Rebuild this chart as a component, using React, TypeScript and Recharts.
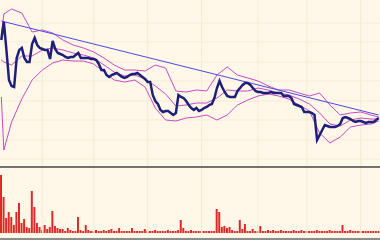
import React from "react";
import {
  Bar,
  BarChart,
  ComposedChart,
  Line,
  ReferenceLine,
  XAxis,
  YAxis,
} from "recharts";

// closing price, one value per trading day
const closes = [
  127, 145, 117, 87, 81, 80, 109, 117, 119, 109, 105, 105, 123, 129, 122, 119,
  118, 117, 117, 108, 126, 118, 114, 113, 112, 110, 109, 110, 110, 112, 114, 109,
  109, 109, 109, 108, 108, 107, 103, 97, 97, 92, 90, 92, 93, 94, 92, 90,
  89, 90, 92, 93, 93, 94, 92, 90, 88, 85, 85, 72, 66, 63, 57, 55,
  56, 56, 54, 52, 54, 72, 70, 69, 66, 62, 59, 57, 59, 56, 57, 59,
  60, 62, 63, 69, 79, 86, 80, 75, 71, 70, 70, 70, 76, 79, 82, 84,
  84, 82, 79, 76, 75, 75, 74, 74, 74, 75, 74, 74, 74, 74, 71, 71,
  71, 69, 63, 62, 61, 60, 55, 55, 55, 54, 52, 27, 32, 37, 42, 41,
  40, 40, 40, 41, 43, 49, 50, 49, 48, 46, 45, 46, 46, 45, 44, 45,
  45, 45, 47, 49,
];

// daily volume
const volumes = [
  58, 36, 15, 21, 16, 8, 21, 30, 10, 14, 6, 5, 42, 26, 10, 6,
  3, 8, 4, 6, 22, 7, 5, 4, 4, 2, 5, 3, 2, 2, 16, 3,
  2, 8, 3, 2, 2, 3, 2, 2, 3, 2, 3, 4, 2, 2, 5, 2,
  2, 2, 2, 5, 2, 2, 2, 2, 4, 2, 2, 2, 3, 2, 2, 2,
  2, 3, 2, 2, 2, 3, 13, 5, 2, 2, 3, 2, 2, 2, 2, 2,
  2, 2, 2, 2, 24, 21, 6, 7, 5, 6, 3, 2, 2, 13, 4, 9,
  2, 2, 4, 2, 2, 7, 2, 2, 3, 2, 3, 2, 2, 3, 2, 2,
  2, 2, 3, 2, 2, 3, 2, 2, 2, 2, 2, 3, 2, 2, 2, 2,
  3, 2, 2, 2, 2, 8, 2, 2, 3, 2, 2, 2, 2, 2, 2, 2,
  2, 2, 2, 2,
];

// bollinger bands, sampled on these days
const bandDays = [
  0, 1, 4, 8, 12, 16, 20, 24, 28, 32, 36, 40, 44, 48, 52, 56, 60, 64, 68, 72,
  76, 80, 84, 88, 92, 96, 100, 104, 108, 112, 116, 120, 124, 128, 132, 136,
  140, 144, 147,
];
const upperBand = [
  132, 153, 158, 154, 135, 137, 134, 127, 122, 119, 115, 109, 102, 97, 97, 96,
  102, 99, 76, 75, 77, 76, 92, 100, 92, 89, 86, 81, 77, 77, 74, 71, 74, 62, 52,
  54, 55, 52, 50,
];
const middleBand = [
  107, 105, 102, 111, 111, 117, 119, 117, 114, 112, 109, 102, 95, 91, 92, 88, 81,
  73, 61, 62, 64, 64, 69, 77, 76, 76, 79, 77, 74, 72, 68, 63, 54, 43, 41, 47, 49,
  48, 48,
];
const lowerBand = [
  70, 17, 45, 68, 87, 97, 104, 107, 106, 106, 103, 95, 87, 85, 87, 80, 59, 47,
  46, 49, 50, 52, 47, 52, 62, 67, 71, 73, 71, 68, 62, 56, 34, 24, 30, 40, 42, 43,
  46,
];

// hand drawn trend line
const trendDays = [0, 147];
const trendValues = [146, 52];

// month boundaries and price levels for the grid
const gridDays = [16, 36, 57, 78, 100, 119, 140];
const gridLevels = [8, 27, 47, 66, 86, 105, 125, 144];

const priceData = closes.map((v, t) => ({ t, v }));
const volumeData = volumes.map((v, t) => ({ t, v }));
const band = (vals: number[]) => vals.map((v, i) => ({ t: bandDays[i], v }));
const trendData = trendValues.map((v, i) => ({ t: trendDays[i], v }));

const BG = "#fff8e8";
const GRID = "#f5ecd6";
const BAND = "#c44bc8";
const X_DOMAIN: [number, number] = [-0.5, 147.5];

export default function App() {
  return (
    <div
      style={{
        position: "absolute",
        left: 0,
        top: 0,
        width: 380,
        height: 240,
        background: BG,
        overflow: "hidden",
      }}
    >
      <ComposedChart
        width={380}
        height={167}
        margin={{ top: 0, right: 0, bottom: 0, left: 0 }}
      >
        <XAxis type="number" dataKey="t" domain={X_DOMAIN} hide />
        <YAxis type="number" domain={[0, 167]} hide />
        {gridLevels.map((y) => (
          <ReferenceLine key={`h${y}`} y={y} stroke={GRID} strokeWidth={1} />
        ))}
        {gridDays.map((x) => (
          <ReferenceLine key={`v${x}`} x={x} stroke={GRID} strokeWidth={1.2} />
        ))}
        <Line
          data={band(upperBand)}
          dataKey="v"
          stroke={BAND}
          strokeWidth={1}
          dot={false}
          activeDot={false}
          isAnimationActive={false}
        />
        <Line
          data={band(middleBand)}
          dataKey="v"
          stroke={BAND}
          strokeWidth={1}
          dot={false}
          activeDot={false}
          isAnimationActive={false}
        />
        <Line
          data={band(lowerBand)}
          dataKey="v"
          stroke={BAND}
          strokeWidth={1}
          dot={false}
          activeDot={false}
          isAnimationActive={false}
        />
        <Line
          data={trendData}
          dataKey="v"
          stroke="#4a4ade"
          strokeWidth={1}
          dot={false}
          activeDot={false}
          isAnimationActive={false}
        />
        <Line
          data={priceData}
          dataKey="v"
          stroke="#1d2078"
          strokeWidth={2.5}
          dot={false}
          activeDot={false}
          isAnimationActive={false}
        />
      </ComposedChart>

      <div
        style={{
          position: "absolute",
          left: 0,
          top: 166,
          width: 380,
          height: 2,
          background: "#727272",
        }}
      />

      <div style={{ position: "absolute", left: 0, top: 168 }}>
        <BarChart
          width={380}
          height={65}
          data={volumeData}
          margin={{ top: 0, right: 0, bottom: 0, left: 0 }}
        >
          <XAxis type="number" dataKey="t" domain={X_DOMAIN} hide />
          <YAxis type="number" domain={[0, 65]} hide />
          {gridDays.map((x) => (
            <ReferenceLine key={`b${x}`} x={x} stroke={GRID} strokeWidth={1.2} />
          ))}
          <Bar
            dataKey="v"
            fill="#dc2a2a"
            barSize={2}
            isAnimationActive={false}
          />
        </BarChart>
      </div>

      <div
        style={{
          position: "absolute",
          left: 0,
          top: 238,
          width: 380,
          height: 2,
          background: "#8c8c8c",
        }}
      />
    </div>
  );
}
